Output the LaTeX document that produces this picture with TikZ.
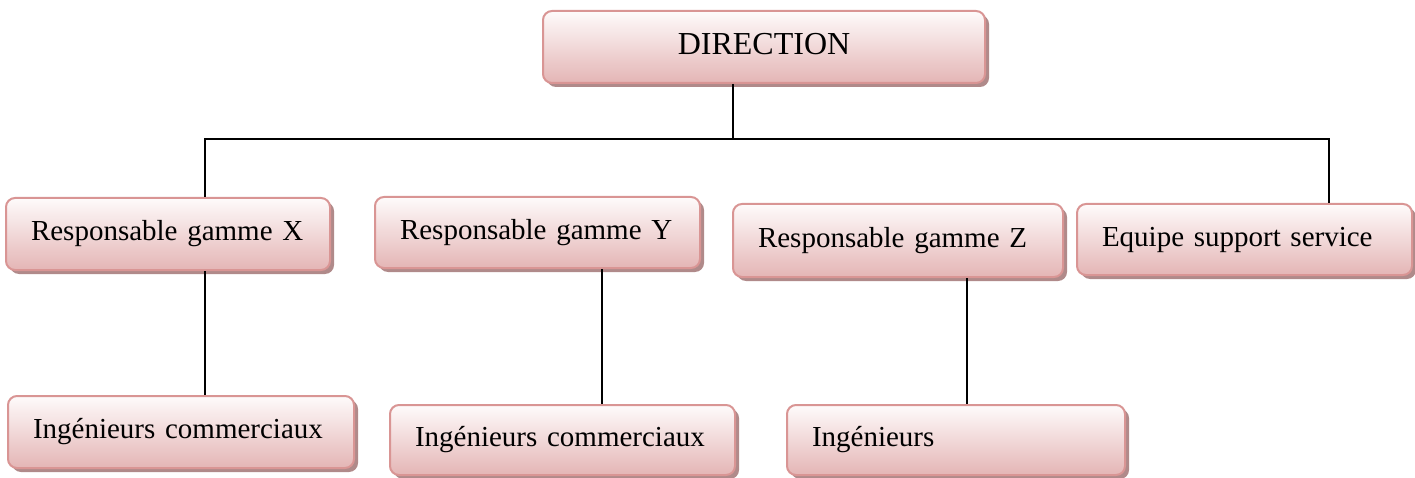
\documentclass[tikz,border=0pt]{standalone}
\usepackage{fontspec}
\setmainfont{Liberation Serif}
\usetikzlibrary{shadows}
\definecolor{boxtop}{HTML}{FEFBFB}
\definecolor{boxbot}{HTML}{E4B5B5}
\definecolor{boxline}{HTML}{D99594}
\definecolor{boxshadow}{HTML}{B08A8A}
\tikzset{
  x=1pt, y=-1pt,
  orgbox/.style={rectangle, rounded corners=9pt, draw=boxline, line width=2pt,
    top color=boxtop, bottom color=boxbot,
    drop shadow={shadow xshift=4pt, shadow yshift=-4pt, fill=boxshadow, opacity=1},
    inner xsep=25pt, inner ysep=0pt, align=left,
    font=\fontsize{29}{34}\selectfont},
  link/.style={draw=black, line width=1.7pt}
}
\begin{document}
\begin{tikzpicture}
\useasboundingbox (0,0) rectangle (1415,478);

% top of the chart
\node[orgbox, align=center, text width=392pt, minimum width=442pt, minimum height=72pt,
      text height=21pt, text depth=5pt, font=\fontsize{32}{37}\selectfont] (dir) at (764,47) {DIRECTION};

% second level
\node[orgbox, text width=274pt, minimum width=324pt, minimum height=72pt] (rx) at (168,234) {Responsable gamme X};
\node[orgbox, text width=275pt, minimum width=325pt, minimum height=71pt] (ry) at (537.5,232.5) {Responsable gamme Y};
\node[orgbox, text width=280pt, minimum width=330pt, minimum height=73pt] (rz) at (898,240.5) {Responsable gamme Z};
\node[orgbox, text width=285pt, minimum width=335pt, minimum height=71pt] (eq) at (1244.5,239.5) {Equipe support service};

% third level
\node[orgbox, text width=296pt, minimum width=346pt, minimum height=72pt] (ix) at (181,432) {Ingénieurs commerciaux};
\node[orgbox, text width=295pt, minimum width=345pt, minimum height=70pt] (iy) at (562.5,440) {Ingénieurs commerciaux};
\node[orgbox, text width=288pt, minimum width=338pt, minimum height=70pt] (iz) at (956,440) {Ingénieurs};

% distribution bus
\coordinate (busL) at (205,139);
\coordinate (busM) at (733,139);
\coordinate (busR) at (1329,139);
\coordinate (tapY) at (602,0);
\coordinate (tapZ) at (967,0);

\path[link] (dir.south -| busM) -- (busM);
\path[link] (busL |- rx.north) -- (busL) -- (busR) -- (busR |- eq.north);
\path[link] (rx.south -| busL) -- (ix.north -| busL);
\path[link] (ry.south -| tapY) -- (iy.north -| tapY);
\path[link] (rz.south -| tapZ) -- (iz.north -| tapZ);
\end{tikzpicture}
\end{document}
